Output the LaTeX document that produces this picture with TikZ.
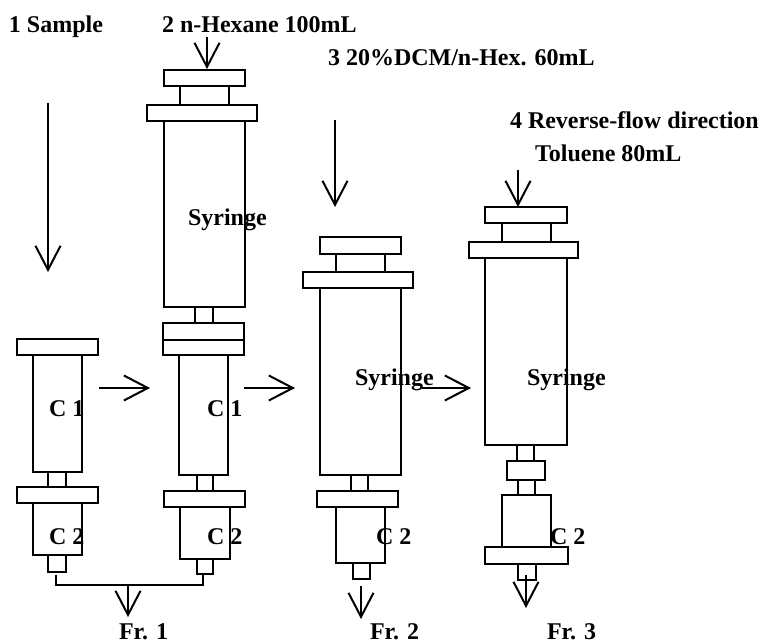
\documentclass[tikz,border=0pt]{standalone}
\usepackage{fontspec}
\setmainfont{Liberation Serif}
\usetikzlibrary{arrows.meta}
\tikzset{
  lab/.style={anchor=base west, inner sep=0pt, font=\fontsize{24}{24}\selectfont\bfseries},
  flow/.style={-{Straight Barb[length=24pt,width=25pt,line width=2pt]}, line width=2pt},
}
\begin{document}
\begin{tikzpicture}[x=1pt, y=-1pt, line width=2pt]
  \useasboundingbox (0,0) rectangle (761,644);
  % column 1
  \draw (17,339) rectangle (98,355);
  \draw (33,355) rectangle (82,472);
  \draw (48,472) rectangle (66,487);
  \draw (17,487) rectangle (98,503);
  \draw (33,503) rectangle (82,555);
  \draw (48,555) rectangle (66,572);
  % column 2
  \draw (164,70) rectangle (245,86);
  \draw (180,86) rectangle (229,105);
  \draw (147,105) rectangle (257,121);
  \draw (164,121) rectangle (245,307);
  \draw (195,307) rectangle (213,323);
  \draw (163,323) rectangle (244,340);
  \draw (163,340) rectangle (244,355);
  \draw (179,355) rectangle (228,475);
  \draw (197,475) rectangle (213,491);
  \draw (164,491) rectangle (245,507);
  \draw (180,507) rectangle (230,559);
  \draw (197,559) rectangle (213,574);
  % column 3
  \draw (320,237) rectangle (401,254);
  \draw (336,254) rectangle (385,272);
  \draw (303,272) rectangle (413,288);
  \draw (320,288) rectangle (401,475);
  \draw (351,475) rectangle (368,491);
  \draw (317,491) rectangle (398,507);
  \draw (336,507) rectangle (385,563);
  \draw (353,563) rectangle (370,579);
  % column 4
  \draw (485,207) rectangle (567,223);
  \draw (502,223) rectangle (551,242);
  \draw (469,242) rectangle (578,258);
  \draw (485,258) rectangle (567,445);
  \draw (517,445) rectangle (534,461);
  \draw (507,461) rectangle (545,480);
  \draw (518,480) rectangle (535,495);
  \draw (502,495) rectangle (551,547);
  \draw (485,547) rectangle (568,564);
  \draw (518,564) rectangle (536,580);
  % end points of the arrows
  \coordinate (sampleA) at (48,103);
  \coordinate (sampleB) at (48,272);
  \coordinate (hexA) at (207,37);
  \coordinate (hexB) at (207,69);
  \coordinate (dcmA) at (335,120);
  \coordinate (dcmB) at (335,207);
  \coordinate (tolA) at (518,170);
  \coordinate (tolB) at (518,207);
  \coordinate (stepaA) at (99,388);
  \coordinate (stepaB) at (150,388);
  \coordinate (stepbA) at (244,388);
  \coordinate (stepbB) at (295,388);
  \coordinate (stepcA) at (422,388);
  \coordinate (stepcB) at (471,388);
  \coordinate (tipa) at (56,575);
  \coordinate (tipb) at (203,574);
  \coordinate (joinL) at (56,585);
  \coordinate (joinR) at (203,585);
  \coordinate (joinM) at (128,585);
  \coordinate (outa) at (128,617);
  \coordinate (outbA) at (361,586);
  \coordinate (outbB) at (361,619);
  \coordinate (outcA) at (526,575);
  \coordinate (outcB) at (526,608);
  \draw[flow] (sampleA) -- (sampleB);
  \draw[flow] (hexA) -- (hexB);
  \draw[flow] (dcmA) -- (dcmB);
  \draw[flow] (tolA) -- (tolB);
  \draw[flow] (stepaA) -- (stepaB);
  \draw[flow] (stepbA) -- (stepbB);
  \draw[flow] (stepcA) -- (stepcB);
  \draw (tipa) -- (joinL) -- (joinR) -- (tipb);
  \draw[flow] (joinM) -- (outa);
  \draw[flow] (outbA) -- (outbB);
  \draw[flow] (outcA) -- (outcB);
  % labels
  \node[lab] (sample) at (8,33) {1 Sample};
  \node[lab] (hexane) at (161,33) {2 n-Hexane 100mL};
  \node[lab] (dcm) at (327,66) {3 20\%DCM/n-Hex. 60mL};
  \node[lab] (reverse) at (509,129) {4 Reverse-flow direction};
  \node[lab] (toluene) at (534,162) {Toluene 80mL};
  \node[lab] (syra) at (187,226) {Syringe};
  \node[lab] (syrb) at (354,386) {Syringe};
  \node[lab] (syrc) at (526,386) {Syringe};
  \node[lab] (cola) at (48,417) {C 1};
  \node[lab] (colb) at (206,417) {C 1};
  \node[lab] (cadta) at (48,544) {C 2};
  \node[lab] (cadtb) at (206,544) {C 2};
  \node[lab] (cadtc) at (375,544) {C 2};
  \node[lab] (cadtd) at (549,544) {C 2};
  \node[lab] (fra) at (118,639) {Fr. 1};
  \node[lab] (frb) at (369,639) {Fr. 2};
  \node[lab] (frc) at (546,639) {Fr. 3};
\end{tikzpicture}
\end{document}
